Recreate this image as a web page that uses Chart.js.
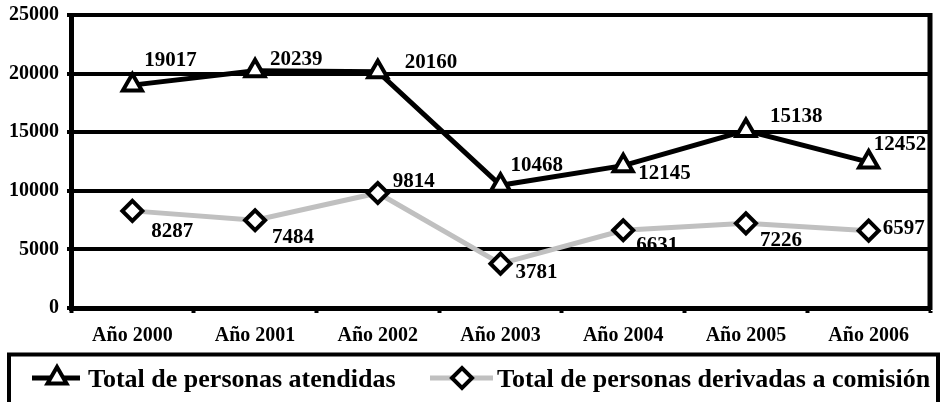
<!DOCTYPE html>
<html>
<head>
<meta charset="utf-8">
<script src="https://cdn.jsdelivr.net/npm/chart.js@4.4.1/dist/chart.umd.min.js"></script>
<style>
  html, body { margin: 0; padding: 0; background: #fff; }
  #wrap { width: 945px; height: 402px; }
</style>
</head>
<body>
<div id="wrap"><canvas id="chart" width="945" height="402"></canvas></div>
<script>
// ---------- data ----------
const years      = ['Año 2000', 'Año 2001', 'Año 2002', 'Año 2003', 'Año 2004', 'Año 2005', 'Año 2006'];
const atendidas  = [19017, 20239, 20160, 10468, 12145, 15138, 12452];
const derivadas  = [8287, 7484, 9814, 3781, 6631, 7226, 6597];
const yTicks     = [0, 5000, 10000, 15000, 20000, 25000];
const labelAtendidas = 'Total de personas atendidas';
const labelDerivadas = 'Total de personas derivadas a comisión';

// ---------- styling ----------
const serif = "'Liberation Serif', 'Times New Roman', serif";
// where each value label sits relative to its point (dx to left edge, dy to middle)
const labelOffsets = [
  [[12, -25], [15, -11], [27, -9], [10, -20], [15, 8], [24, -14], [5, -17]],
  [[19, 21], [17, 17], [15, -11], [15, 9], [13, 15], [14, 17], [14, -2]]
];

// value labels next to each point
const valueLabels = {
  id: 'valueLabels',
  afterDatasetsDraw(chart) {
    const ctx = chart.ctx;
    ctx.save();
    ctx.font = 'bold 21px ' + serif;
    ctx.fillStyle = '#000';
    ctx.textAlign = 'left';
    ctx.textBaseline = 'middle';
    chart.data.datasets.forEach((ds, i) => {
      chart.getDatasetMeta(i).data.forEach((pt, j) => {
        const off = labelOffsets[i][j];
        ctx.fillText(String(ds.data[j]), pt.x + off[0], pt.y + off[1]);
      });
    });
    ctx.restore();
  }
};

// right border of the plot + boxed legend at the bottom
const frameAndLegend = {
  id: 'frameAndLegend',
  afterDraw(chart) {
    const ctx = chart.ctx;
    const area = chart.chartArea;
    ctx.save();
    ctx.strokeStyle = '#000';
    ctx.lineWidth = 5;
    ctx.beginPath();
    ctx.moveTo(area.right, area.top - 2);
    ctx.lineTo(area.right, area.bottom + 2);
    ctx.stroke();

    // legend box (bottom edge runs off the canvas)
    ctx.lineWidth = 4;
    ctx.strokeRect(9, 354.5, 929, 60);

    const items = [
      { x0: 32, x1: 80, xm: 57, tx: 88 },
      { x0: 430, x1: 493, xm: 462, tx: 497 }
    ];
    const ly = 378;
    chart.data.datasets.forEach((ds, i) => {
      const it = items[i];
      ctx.strokeStyle = ds.borderColor;
      ctx.lineWidth = ds.borderWidth;
      ctx.beginPath();
      ctx.moveTo(it.x0, ly);
      ctx.lineTo(it.x1, ly);
      ctx.stroke();
      ctx.fillStyle = ds.pointBackgroundColor;
      ctx.strokeStyle = ds.pointBorderColor;
      ctx.lineWidth = ds.pointBorderWidth;
      Chart.helpers.drawPoint(ctx, { pointStyle: ds.pointStyle, radius: ds.pointRadius, rotation: 0, borderWidth: ds.pointBorderWidth }, it.xm, ly);
      ctx.fillStyle = '#000';
      ctx.font = 'bold 26px ' + serif;
      ctx.textAlign = 'left';
      ctx.textBaseline = 'middle';
      ctx.fillText(ds.label, it.tx, ly + 2);
    });
    ctx.restore();
  }
};

const chart = new Chart(document.getElementById('chart'), {
  type: 'line',
  data: {
    labels: years,
    datasets: [
      {
        label: labelAtendidas,
        data: atendidas,
        borderColor: '#000',
        borderWidth: 5,
        pointStyle: 'triangle',
        pointRadius: 11,
        pointBorderWidth: 4,
        pointBackgroundColor: '#fff',
        pointBorderColor: '#000',
        tension: 0
      },
      {
        label: labelDerivadas,
        data: derivadas,
        borderColor: '#c0c0c0',
        borderWidth: 5,
        pointStyle: 'rectRot',
        pointRadius: 10,
        pointBorderWidth: 4,
        pointBackgroundColor: '#fff',
        pointBorderColor: '#000',
        tension: 0
      }
    ]
  },
  options: {
    responsive: false,
    animation: false,
    layout: { padding: { top: 14, right: 5, left: 0, bottom: 0 } },
    plugins: {
      legend: { display: false },
      tooltip: { enabled: false }
    },
    scales: {
      x: {
        offset: true,
        grid: {
          offset: true,
          drawOnChartArea: false,
          drawTicks: true,
          tickLength: 5,
          tickWidth: 4,
          tickColor: '#000'
        },
        border: { color: '#000', width: 5 },
        ticks: {
          color: '#000',
          font: { family: serif, size: 20, weight: 'bold' },
          padding: 11,
          maxRotation: 0
        },
        afterFit(scale) { scale.height = 94; }
      },
      y: {
        min: 0,
        max: 25000,
        afterBuildTicks(scale) { scale.ticks = yTicks.map(v => ({ value: v })); },
        grid: {
          color: '#000',
          lineWidth: 4,
          drawTicks: true,
          tickLength: 4,
          tickColor: '#000'
        },
        border: { color: '#000', width: 5 },
        ticks: {
          color: '#000',
          font: { family: serif, size: 20, weight: 'bold' },
          padding: 8,
          callback: v => String(v)
        },
        afterFit(scale) {
          scale.width = 71;
          scale.paddingTop = 0;
          scale.paddingBottom = 0;
        }
      }
    }
  },
  plugins: [valueLabels, frameAndLegend]
});
</script>
</body>
</html>
